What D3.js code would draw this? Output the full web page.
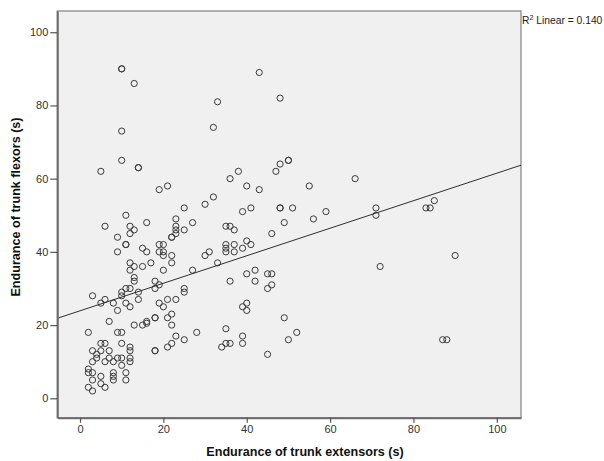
<!DOCTYPE html>
<html>
<head>
<meta charset="utf-8">
<script src="https://cdn.jsdelivr.net/npm/d3@7"></script>
<style>
  body { margin: 0; background: #fff; }
  svg { display: block; }
  text { font-family: "Liberation Sans", Arial, sans-serif; }
</style>
</head>
<body>
<svg id="chart" width="604" height="461"></svg>
<script>
// Endurance of trunk extensors (s)
const extensors = [
  10,10,13,10,33,43,48,32,
  5,10,14,14,19,21,25,11,6,12,13,12,16,23,23,23,23,22,22,25,27,9,11,11,9,15,16,19,20,19,20,20,22,22,12,12,13,15,17,20,13,13,18,19,27,
  30,32,36,38,40,43,47,48,50,50,55,39,41,48,48,51,49,56,59,46,35,36,37,35,35,35,37,37,40,39,41,31,30,33,36,40,42,42,45,46,
  25,25,45,46,39,40,40,49,28,25,35,35,36,34,39,39,45,50,52,
  66,71,71,83,84,85,72,90,87,88,
  3,5,6,8,9,10,10,11,12,11,12,14,14,18,18,19,20,21,23,
  7,2,9,10,13,15,16,16,18,21,22,22,23,22,21,18,18,5,6,3,5,7,10,12,12,4,3,4,6,7,8,9,10,10,12,12,
  2,2,3,3,5,8,8,8,11,11,2,3,5,6
];
// Endurance of trunk flexors (s)
const flexors = [
  90,90,86,73,81,89,82,74,
  62,65,63,63,57,58,52,50,47,47,46,45,48,49,47,46,45,44,44,46,48,44,42,42,40,41,40,42,42,40,40,39,39,37,37,35,36,36,37,35,33,32,32,31,35,
  53,55,60,62,58,57,62,64,65,65,58,51,52,52,52,52,48,49,51,45,47,47,46,42,41,40,42,40,43,41,42,40,39,37,32,34,35,32,34,34,
  30,29,30,31,25,26,24,22,18,16,19,15,15,14,17,15,12,16,18,
  60,52,50,52,52,54,36,39,16,16,
  28,26,27,26,24,29,28,30,30,26,25,29,27,30,22,26,25,27,27,
  21,18,18,18,20,20,21,20.5,22,22,23,20,17,15,14,13,13,15,15,13,13,13,15,14,13,12,10,11,10,11,10,11,11,9,11,10,
  8,7,7,5,6,7,6,5,7,5,3,2,4,3
];
// Linear fit and its label
const fitIntercept = 23.9;
const fitSlope = 0.376;
const fitLabel = "0.140";
const xTicks = [0, 20, 40, 60, 80, 100];
const yTicks = [0, 20, 40, 60, 80, 100];
const xTitle = "Endurance of trunk extensors (s)";
const yTitle = "Endurance of trunk flexors (s)";

const svg = d3.select("#chart");
const L = 57.3, R = 521, T = 11, B = 417.7;
const xDom = [-5.45, 105.8], yDom = [-5.3, 105.8];
const x = d3.scaleLinear().domain(xDom).range([L, R]);
const y = d3.scaleLinear().domain(yDom).range([B, T]);

svg.append("rect")
  .attr("x", L).attr("y", T).attr("width", R - L).attr("height", B - T)
  .attr("fill", "#f0f0f0").attr("stroke", "#8a8a8a").attr("stroke-width", 1.3);

const clip = svg.append("clipPath").attr("id", "clip")
  .append("rect").attr("x", L).attr("y", T).attr("width", R - L).attr("height", B - T);

// points
const pts = extensors.map((v, i) => ({x: v, y: flexors[i]}));
svg.append("g").attr("clip-path", "url(#clip)")
  .selectAll("circle").data(pts).join("circle")
  .attr("cx", d => x(d.x)).attr("cy", d => y(d.y)).attr("r", 3.1)
  .attr("fill", "none").attr("stroke", "#3a3a3a").attr("stroke-width", 1);

// fit line
const line = d3.line().x(d => x(d)).y(d => y(fitIntercept + fitSlope * d));
svg.append("path").attr("clip-path", "url(#clip)")
  .attr("d", line(xDom)).attr("fill", "none")
  .attr("stroke", "#2e2e2e").attr("stroke-width", 1);

// axes
const xAxis = svg.append("g").attr("transform", `translate(0,${B})`)
  .call(d3.axisBottom(x).tickValues(xTicks).tickSize(5).tickPadding(3).tickSizeOuter(0));
const yAxis = svg.append("g").attr("transform", `translate(${L},0)`)
  .call(d3.axisLeft(y).tickValues(yTicks).tickSize(7).tickPadding(2).tickSizeOuter(0));
[xAxis, yAxis].forEach(g => {
  g.select(".domain").attr("stroke", "#6e6e6e").attr("stroke-width", 2);
  g.selectAll(".tick line").attr("stroke", "#555").attr("stroke-width", 1.2);
  g.selectAll(".tick text").attr("fill", "#333").style("font-size", "11px")
    .style("font-family", "'Liberation Sans', Arial, sans-serif");
});

// titles
svg.append("text").attr("x", 305).attr("y", 456).attr("text-anchor", "middle")
  .style("font-size", "12.6px").style("font-weight", "bold").attr("fill", "#111")
  .text(xTitle);
svg.append("text").attr("transform", "translate(20,207) rotate(-90)").attr("text-anchor", "middle")
  .style("font-size", "12.6px").style("font-weight", "bold").attr("fill", "#111")
  .text(yTitle);

// R² label
const rl = svg.append("text").attr("x", 522).attr("y", 23.5)
  .style("font-size", "10.3px").attr("fill", "#222");
rl.append("tspan").text("R");
rl.append("tspan").attr("dy", -4).style("font-size", "7px").text("2");
rl.append("tspan").attr("dy", 4).text(" Linear = " + fitLabel);
</script>
</body>
</html>
